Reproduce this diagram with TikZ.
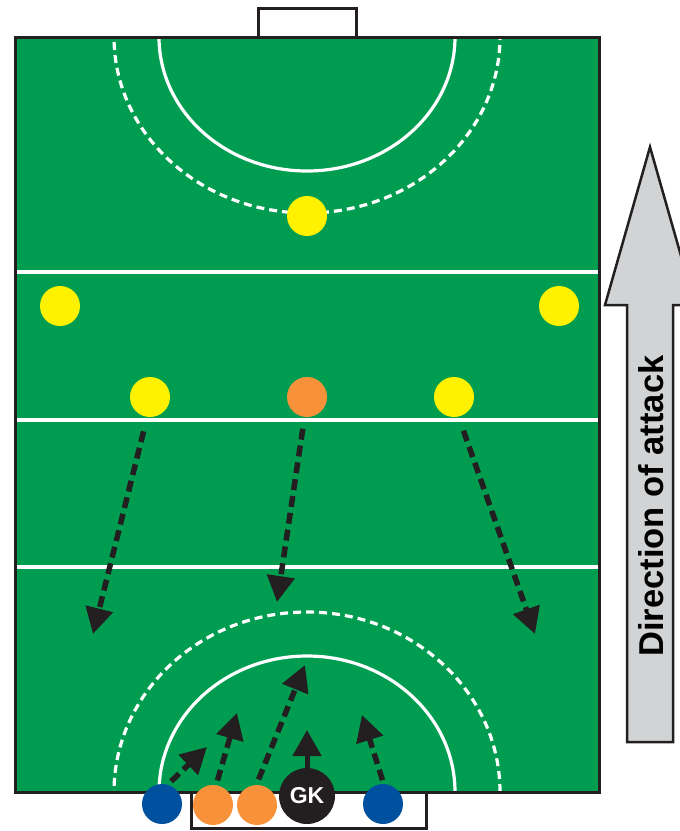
\documentclass[tikz,border=0pt]{standalone}
\usepackage{fontspec}
\setmainfont{Liberation Sans}
\usetikzlibrary{arrows.meta}
\definecolor{pitch}{RGB}{0,157,80}
\definecolor{ink}{RGB}{35,31,32}
\definecolor{yel}{RGB}{255,242,0}
\definecolor{ora}{RGB}{247,146,58}
\definecolor{blu}{RGB}{0,80,160}
\definecolor{arrowgray}{RGB}{209,211,212}
\begin{document}
\begin{tikzpicture}[x=1pt,y=-1pt,
  player/.style={circle,minimum size=40pt,inner sep=0pt,outer sep=0pt},
  keeper/.style={circle,minimum size=56pt,inner sep=0pt,outer sep=0pt,fill=ink,text=white,font=\bfseries\fontsize{23}{23}\selectfont},
  pitchline/.style={draw=white,line width=3.2pt},
  dashline/.style={draw=white,line width=3.2pt,dash pattern=on 8pt off 5pt},
  runarrow/.style={draw=ink,line width=5.5pt,dash pattern=on 11pt off 6pt,-{Triangle[length=26pt,width=27pt]}},
  solidarrow/.style={draw=ink,line width=5pt,-{Triangle[length=26pt,width=28pt]}},
  goalbox/.style={draw=ink,line width=3pt,fill=white}
]
\useasboundingbox (0,0) rectangle (680,831);
\fill[white] (0,0) rectangle (680,831);
% goals
\draw[goalbox] (258,8) rectangle (356,37);
\draw[goalbox] (191,792) rectangle (426,828);
% field
\fill[pitch] (15,37) rectangle (599,792);
\begin{scope}
  \clip (15,37) rectangle (599,792);
  \draw[pitchline] (15,272) -- (599,272);
  \draw[pitchline] (15,420) -- (599,420);
  \draw[pitchline] (15,567) -- (599,567);
  \draw[pitchline] (307,37) ellipse [x radius=148pt, y radius=134pt];
  \draw[dashline] (307,37) ellipse [x radius=193pt, y radius=176pt];
  \draw[pitchline] (307,792) ellipse [x radius=148pt, y radius=136pt];
  \draw[dashline] (307,792) ellipse [x radius=193pt, y radius=180pt];
\end{scope}
\draw[ink,line width=3pt] (15,37) rectangle (599,792);
% direction arrow
\draw[ink,line width=2.5pt,fill=arrowgray,line join=miter]
  (650,147) -- (605,305) -- (627,305) -- (627,742) -- (673,742) -- (673,305) -- (695,305) -- cycle;
\node[rotate=90,font=\bfseries\fontsize{34.5}{34.5}\selectfont,inner sep=0pt] (dir) at (651,506) {Direction of attack};
% players
\node[player,fill=yel] (y1) at (307,216) {};
\node[player,fill=yel] (y2) at (60,306) {};
\node[player,fill=yel] (y3) at (559,306) {};
\node[player,fill=yel] (y4) at (150,397) {};
\node[player,fill=ora] (o1) at (307,397) {};
\node[player,fill=yel] (y5) at (454,397) {};
\node[player,fill=blu] (b1) at (162,804) {};
\node[player,fill=ora] (o2) at (213,805) {};
\node[player,fill=ora] (o3) at (257,805) {};
\node[keeper] (gk) at (307,796) {GK};
\node[player,fill=blu] (b2) at (383,804) {};
% arrow targets
\coordinate (t1) at (93,634);
\coordinate (t2) at (277,602);
\coordinate (t3) at (535,634);
\coordinate (t4) at (207,747);
\coordinate (t5) at (237,713);
\coordinate (t6) at (305,665);
\coordinate (t7) at (307,730);
\coordinate (t8) at (362,715);
% runs
\draw[runarrow,shorten <=15pt] (y4.262) -- (t1);
\draw[runarrow,shorten <=12pt] (o1.263) -- (t2);
\draw[runarrow,shorten <=15pt] (y5.283) -- (t3);
\draw[runarrow,shorten <=5pt] (b1.74) -- (t4);
\draw[runarrow,shorten <=5pt] (o2.81) -- (t5);
\draw[runarrow,shorten <=6pt] (o3.92) -- (t6);
\draw[solidarrow] (gk.90) -- (t7);
\draw[runarrow,shorten <=4pt] (b2.88) -- (t8);
\end{tikzpicture}
\end{document}
